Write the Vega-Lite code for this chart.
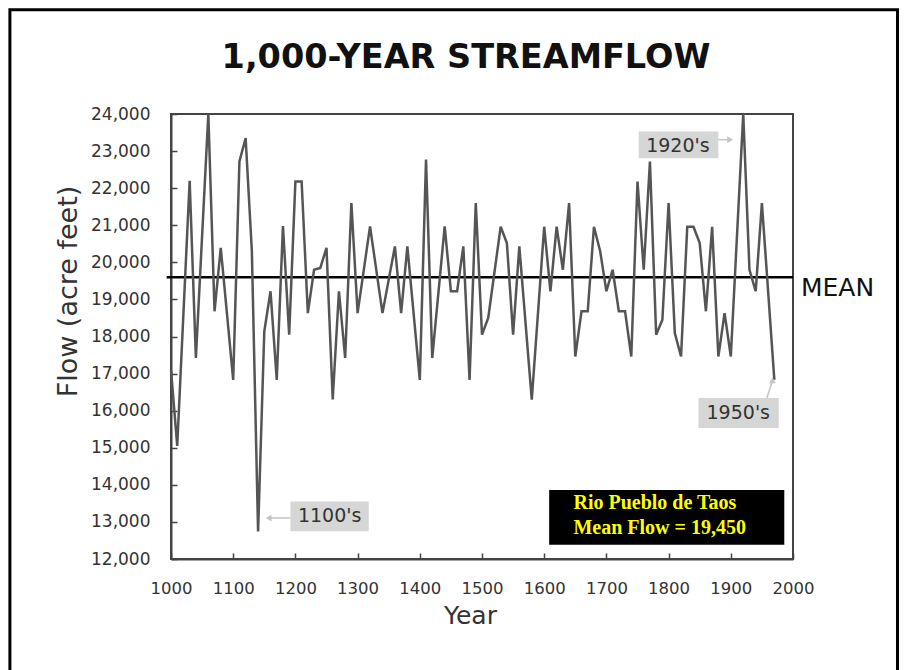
{
  "$schema": "https://vega.github.io/schema/vega-lite/v6.json",
  "width": 622,
  "height": 445,
  "autosize": {"type": "none"},
  "padding": {"left": 171, "top": 114, "right": 115, "bottom": 111},
  "background": "white",
  "config": {
    "view": {"stroke": "#444", "strokeWidth": 2},
    "font": "DejaVu Sans"
  },
  "title": {
    "text": "1,000-YEAR STREAMFLOW",
    "font": "DejaVu Sans",
    "fontSize": 33.5,
    "fontWeight": "bold",
    "color": "#111",
    "anchor": "middle",
    "offset": -67,
    "dx": -16
  },
  "encoding": {
    "x": {
      "field": "year",
      "type": "quantitative",
      "scale": {"domain": [1000, 2000], "nice": false, "zero": false},
      "axis": {
        "title": "Year",
        "values": [1000, 1100, 1200, 1300, 1400, 1500, 1600, 1700, 1800, 1900, 2000],
        "format": "d",
        "grid": false,
        "labelFontSize": 16.5,
        "labelColor": "#333",
        "labelFlush": false,
        "tickSize": -6,
        "tickWidth": 1.5,
        "tickColor": "#444",
        "domainColor": "#444",
        "domainWidth": 2,
        "labelPadding": 27,
        "titleFontSize": 25,
        "titleFontWeight": "normal",
        "titleColor": "#333",
        "titlePadding": 7,
        "titleX": 299
      }
    },
    "y": {
      "field": "flow",
      "type": "quantitative",
      "scale": {"domain": [12000, 24000], "nice": false, "zero": false},
      "axis": {
        "title": "Flow (acre feet)",
        "values": [12000, 13000, 14000, 15000, 16000, 17000, 18000, 19000, 20000, 21000, 22000, 23000, 24000],
        "format": ",d",
        "grid": false,
        "labelFontSize": 17,
        "labelColor": "#333",
        "labelFlush": false,
        "tickSize": -6,
        "tickWidth": 1.5,
        "tickColor": "#444",
        "domainColor": "#444",
        "domainWidth": 2,
        "labelPadding": 27,
        "titleFontSize": 27,
        "titleFontWeight": "normal",
        "titleColor": "#333",
        "titlePadding": 8,
        "titleY": 177
      }
    }
  },
  "layer": [
    {
      "data": {"values": [{"year": 741, "year2": 2168, "flow": 26813, "flow2": 8200}]},
      "mark": {"type": "rect", "fill": null, "fillOpacity": 0, "stroke": "#000", "strokeWidth": 3},
      "encoding": {
        "x2": {"field": "year2"},
        "y2": {"field": "flow2"}
      }
    },
    {
      "data": {"values": [{"year": 993, "year2": 2000, "flow": 19600}]},
      "mark": {"type": "rule", "color": "#000", "strokeWidth": 2.5},
      "encoding": {
        "x2": {"field": "year2"}
      }
    },
    {
      "data": {
        "values": [
          {"year": 1000, "flow": 17100}, {"year": 1010, "flow": 15050}, {"year": 1030, "flow": 22200},
          {"year": 1040, "flow": 17420}, {"year": 1060, "flow": 24000}, {"year": 1070, "flow": 18680},
          {"year": 1080, "flow": 20390}, {"year": 1100, "flow": 16830}, {"year": 1110, "flow": 22720},
          {"year": 1120, "flow": 23350}, {"year": 1130, "flow": 20300}, {"year": 1140, "flow": 12740},
          {"year": 1150, "flow": 18140}, {"year": 1160, "flow": 19220}, {"year": 1170, "flow": 16830},
          {"year": 1180, "flow": 20980}, {"year": 1190, "flow": 18050}, {"year": 1200, "flow": 22180},
          {"year": 1210, "flow": 22180}, {"year": 1220, "flow": 18630}, {"year": 1230, "flow": 19800},
          {"year": 1240, "flow": 19850}, {"year": 1250, "flow": 20390}, {"year": 1260, "flow": 16300},
          {"year": 1270, "flow": 19220}, {"year": 1280, "flow": 17420}, {"year": 1290, "flow": 21600},
          {"year": 1300, "flow": 18630}, {"year": 1320, "flow": 20970}, {"year": 1340, "flow": 18630},
          {"year": 1360, "flow": 20430}, {"year": 1370, "flow": 18630}, {"year": 1380, "flow": 20430},
          {"year": 1400, "flow": 16830}, {"year": 1410, "flow": 22770}, {"year": 1420, "flow": 17420},
          {"year": 1440, "flow": 20970}, {"year": 1450, "flow": 19220}, {"year": 1460, "flow": 19220},
          {"year": 1470, "flow": 20430}, {"year": 1480, "flow": 16830}, {"year": 1490, "flow": 21600},
          {"year": 1500, "flow": 18050}, {"year": 1510, "flow": 18500}, {"year": 1530, "flow": 20960},
          {"year": 1540, "flow": 20520}, {"year": 1550, "flow": 18050}, {"year": 1560, "flow": 20430},
          {"year": 1580, "flow": 16300}, {"year": 1600, "flow": 20960}, {"year": 1610, "flow": 19220},
          {"year": 1620, "flow": 20960}, {"year": 1630, "flow": 19800}, {"year": 1640, "flow": 21600},
          {"year": 1650, "flow": 17460}, {"year": 1660, "flow": 18680}, {"year": 1670, "flow": 18680},
          {"year": 1680, "flow": 20960}, {"year": 1690, "flow": 20300}, {"year": 1700, "flow": 19220},
          {"year": 1710, "flow": 19800}, {"year": 1720, "flow": 18680}, {"year": 1730, "flow": 18680},
          {"year": 1740, "flow": 17460}, {"year": 1750, "flow": 22180}, {"year": 1760, "flow": 19800},
          {"year": 1770, "flow": 22720}, {"year": 1780, "flow": 18050}, {"year": 1790, "flow": 18450},
          {"year": 1800, "flow": 21600}, {"year": 1810, "flow": 18090}, {"year": 1820, "flow": 17460},
          {"year": 1830, "flow": 20960}, {"year": 1840, "flow": 20960}, {"year": 1850, "flow": 20520},
          {"year": 1860, "flow": 18680}, {"year": 1870, "flow": 20960}, {"year": 1880, "flow": 17460},
          {"year": 1890, "flow": 18630}, {"year": 1900, "flow": 17460}, {"year": 1920, "flow": 24000},
          {"year": 1930, "flow": 19800}, {"year": 1940, "flow": 19220}, {"year": 1950, "flow": 21600},
          {"year": 1970, "flow": 16830}
        ]
      },
      "mark": {"type": "line", "color": "#555", "strokeWidth": 2.5}
    },
    {
      "data": {"values": [{"label": "MEAN", "year": 2000, "flow": 19300}]},
      "mark": {"type": "text", "align": "left", "baseline": "middle", "dx": 8, "fontSize": 25, "color": "#111"},
      "encoding": {
        "text": {"field": "label"}
      }
    },
    {
      "data": {
        "values": [
          {"label": "1100's", "year": 1192, "year2": 1318, "flow": 12745, "flow2": 13550},
          {"label": "1920's", "year": 1752, "year2": 1880, "flow": 22810, "flow2": 23530},
          {"label": "1950's", "year": 1848, "year2": 1977, "flow": 15530, "flow2": 16340}
        ]
      },
      "mark": {"type": "rect", "color": "#d6d6d6"},
      "encoding": {
        "x2": {"field": "year2"},
        "y2": {"field": "flow2"}
      }
    },
    {
      "data": {
        "values": [
          {"label": "1100's", "year": 1255, "flow": 13150},
          {"label": "1920's", "year": 1815, "flow": 23150},
          {"label": "1950's", "year": 1912, "flow": 15936}
        ]
      },
      "mark": {"type": "text", "align": "center", "baseline": "middle", "fontSize": 19, "color": "#333"},
      "encoding": {
        "text": {"field": "label"}
      }
    },
    {
      "data": {
        "values": [
          {"arrow": "1100's", "year": 1192, "year2": 1160, "flow": 13105, "flow2": 13105},
          {"arrow": "1920's", "year": 1880, "year2": 1897, "flow": 23307, "flow2": 23307},
          {"arrow": "1950's", "year": 1958, "year2": 1966, "flow": 16341, "flow2": 16750}
        ]
      },
      "mark": {"type": "rule", "color": "#c4c4c4", "strokeWidth": 1.5},
      "encoding": {
        "x2": {"field": "year2"},
        "y2": {"field": "flow2"}
      }
    },
    {
      "data": {
        "values": [
          {"arrow": "1100's", "year": 1157, "flow": 13105, "head": "triangle-left"},
          {"arrow": "1920's", "year": 1899, "flow": 23307, "head": "triangle-right"},
          {"arrow": "1950's", "year": 1967, "flow": 16820, "head": "triangle-up"}
        ]
      },
      "mark": {"type": "point", "filled": true, "color": "#c4c4c4", "size": 45, "opacity": 1},
      "encoding": {
        "shape": {"field": "head", "type": "nominal", "scale": null, "legend": null}
      }
    },
    {
      "data": {"values": [{"site": "Rio Pueblo de Taos", "year": 1608, "year2": 1986, "flow": 12381, "flow2": 13864}]},
      "mark": {"type": "rect", "color": "#000"},
      "encoding": {
        "x2": {"field": "year2"},
        "y2": {"field": "flow2"}
      }
    },
    {
      "data": {"values": [{"note": "Rio Pueblo de Taos\nMean Flow = 19,450", "year": 1647, "flow": 13509}]},
      "mark": {"type": "text", "align": "left", "baseline": "middle", "lineBreak": "\n", "lineHeight": 25, "font": "Liberation Serif", "fontWeight": "bold", "fontSize": 20, "color": "#ffff00"},
      "encoding": {
        "text": {"field": "note"}
      }
    }
  ]
}
